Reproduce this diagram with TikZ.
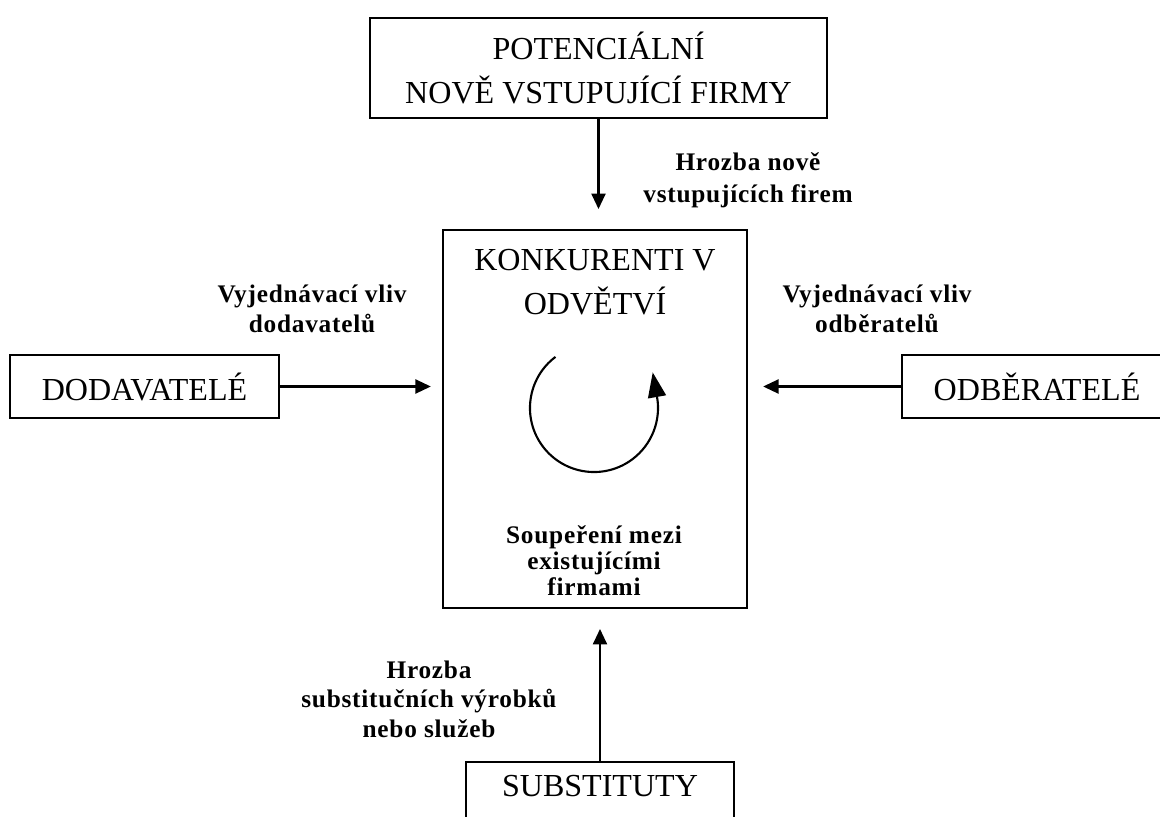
\documentclass[tikz,border=0pt]{standalone}
\usepackage{fontspec}
\setmainfont{Liberation Serif}
\newfontfamily\lblfont[LetterSpace=3]{Liberation Serif}
\usetikzlibrary{arrows.meta,positioning}

\begin{document}
\begin{tikzpicture}[
    x=0.025cm, y=-0.025cm,
    box/.style={rectangle, draw, line width=1.3pt, align=center, inner sep=0pt,
        font=\fontsize{22.8pt}{31pt}\selectfont},
    lbl/.style={align=center, inner sep=0pt, font=\lblfont\fontsize{18pt}{21pt}\selectfont\bfseries},
    flow/.style={-{Triangle[length=11pt,width=10pt]}, line width=1.5pt},
    cycarrow/.style={-{Triangle[length=17.7pt,width=12.8pt]}, line width=1.5pt}
]
\useasboundingbox (0,0) rectangle (1160,817);

% boxes
\node[box, minimum width=11.43cm, minimum height=2.5cm] (potential) at (598.5,68) {POTENCIÁLNÍ\\NOVĚ VSTUPUJÍCÍ FIRMY};
\node[box, minimum width=7.6cm, minimum height=9.45cm] (konk) at (595,419) {};
\node[box, draw=none] (konktitle) at (595,282) {KONKURENTI V\\ODVĚTVÍ};
\node[box, minimum width=6.73cm, minimum height=1.58cm] (dodav) at (144.5,386.5) {DODAVATELÉ};
\node[box, minimum width=6.75cm, minimum height=1.58cm] (odber) at (1037,386.5) {ODBĚRATELÉ};
\node[box, anchor=north, minimum width=6.7cm, inner ysep=0.33cm, text height=0.53cm, text depth=1cm] (subst) at (600,761) {SUBSTITUTY};

% labels
\node[lbl, font=\lblfont\fontsize{18pt}{23pt}\selectfont\bfseries] (threatnew) at (748,180) {Hrozba nově\\vstupujících firem};
\node[lbl] (suppl) at (312,309) {Vyjednávací vliv\\dodavatelů};
\node[lbl] (buyer) at (877,309) {Vyjednávací vliv\\odběratelů};
\node[lbl, font=\lblfont\fontsize{18pt}{18.5pt}\selectfont\bfseries] (rival) at (594,561) {Soupeření mezi\\existujícími\\firmami};
\node[lbl] (threatsub) at (429,699) {Hrozba\\substitučních výrobků\\nebo služeb};

% forces
\draw[flow, shorten >=0.5cm] (potential.south) -- (potential.south |- konk.north);
\draw[flow, shorten >=0.28cm] (dodav.east) -- (dodav.east -| konk.west);
\draw[flow, shorten >=0.38cm] (odber.west) -- (odber.west -| konk.east);
\draw[flow, shorten >=0.5cm] (subst.north) -- (subst.north |- konk.south);

% rivalry cycle
\coordinate (cyc) at (594,408);
\draw[cycarrow] (cyc) ++(127:1.6cm) arc[start angle=127, end angle=370, radius=1.6cm] -- ++(100:17.7pt);
\end{tikzpicture}
\end{document}
